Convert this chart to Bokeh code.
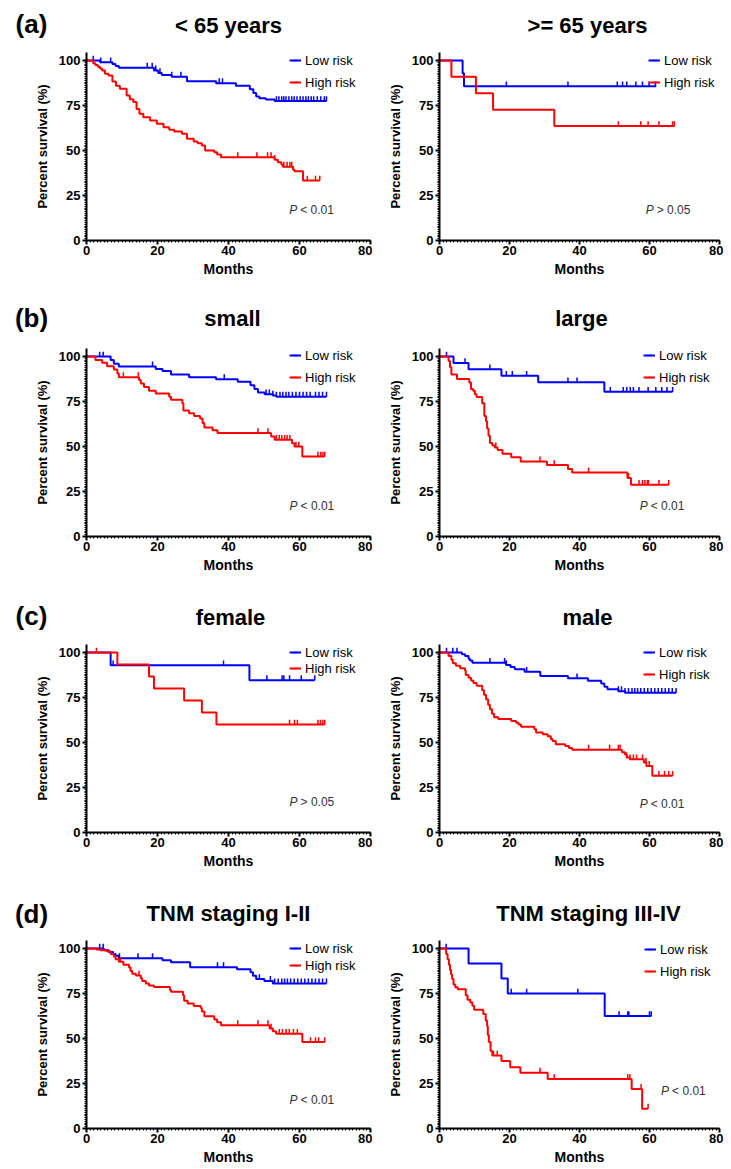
import math
from bokeh.plotting import figure
from bokeh.layouts import column, row
from bokeh.models import Label, Legend, LegendItem, Range1d, ColumnDataSource, FixedTicker
from bokeh.embed import file_html
from bokeh.resources import INLINE

# ---------------- data (months, percent survival) ----------------
X_TICKS = [0, 20, 40, 60, 80]
Y_TICKS = [0, 25, 50, 75, 100]

# (a) < 65 years
A1_LOW_T = [0, 3.8, 7.3, 8.2, 9.1, 19.0, 20.2, 21.2, 24.0, 28.3, 36.5, 42.1, 46.0, 47.0, 47.8, 48.7, 50.5, 53.0, 67.6]
A1_LOW_S = [100, 99, 98, 97, 96, 94.5, 93, 92, 91, 88.5, 87.4, 86, 84, 82, 80, 79, 78.3, 77.5, 77.5]
A1_LOW_C = [1.9, 4.0, 6.8, 17.1, 18.5, 19.5, 20.7, 24.0, 26.6, 37.4, 38.3, 53.5, 54.2, 55.0, 55.6, 56.2, 57.0,
            57.8, 58.5, 59.3, 60.2, 61.0, 61.8, 62.5, 63.3, 64.0, 65.0, 66.0, 67.0, 67.6]
A1_HIGH_T = [0, 1.9, 2.5, 3.2, 3.8, 4.4, 5.2, 6.2, 7.3, 8.3, 9.4, 11.3, 12.2, 13.2, 14.1, 14.9, 16.0, 17.9, 19.8,
             21.7, 23.3, 24.7, 26.9, 28.3, 30.2, 31.3, 32.5, 33.4, 36.0, 36.8, 37.9, 53.0, 53.9,
             54.9, 55.3, 58.2, 58.6, 61.0, 65.7]
A1_HIGH_S = [100, 98.5, 97.5, 96.5, 95.5, 94.5, 92.6, 91.7, 88.3, 86, 84.3, 80.5, 78.5, 76.9, 73.1, 70.4, 68.5,
             66.7, 64.8, 62.9, 61.5, 60.5, 59.3, 56.5, 55, 54, 52.8, 50, 49, 47.8, 46.3, 44.8, 43.5, 42.2, 41,
             39.3, 38.5, 33.3, 33.3]
A1_HIGH_C = [42.6, 48.0, 51.0, 52.0, 53.0, 55.6, 56.5, 57.3, 57.8, 62.2, 64.5, 65.7]

# (a) >= 65 years
A2_LOW_T = [0, 6.6, 7.0, 61.9]
A2_LOW_S = [100, 92.9, 85.7, 85.7]
A2_LOW_C = [19.1, 36.7, 50.8, 52.3, 53.5, 56.1, 58.0, 59.9, 61.7]
A2_HIGH_T = [0, 3.4, 10.4, 15.3, 32.8, 67.1]
A2_HIGH_S = [100, 90.9, 81.8, 72.7, 63.6, 63.6]
A2_HIGH_C = [51.1, 57.5, 59.6, 62.7, 66.6, 67.1]

# (b) small
B1_LOW_T = [0, 6.8, 7.7, 9.1, 19.5, 21.4, 23.8, 28.9, 36.5, 42.6, 46.2, 47.3, 48.3, 50.2, 52.5, 53.5, 67.6]
B1_LOW_S = [100, 98, 96, 94.5, 93, 92, 90, 88.5, 87.4, 85.9, 84, 82, 80, 79, 78.3, 77.7, 77.7]
B1_LOW_C = [3.7, 4.7, 18.6, 38.8, 50.6, 51.5, 52.5, 53.5, 54.5, 55.3, 56.2, 57.0, 58.0, 59.0, 60.0, 61.0, 62.0,
            63.0, 64.5, 65.5, 66.5, 67.6]
B1_HIGH_T = [0, 2.5, 4.4, 5.8, 7.7, 8.7, 9.1, 14.8, 15.3, 16.2, 17.6, 19.5, 23.3, 23.8, 27.0, 27.3, 28.9, 30.3,
             32.0, 32.7, 33.2, 35.5, 36.9, 52.0, 53.0, 57.9, 58.6, 60.8, 67.1]
B1_HIGH_S = [100, 98, 96.5, 94.6, 92.8, 90.5, 88.5, 87, 85, 83, 81, 79.5, 77.7, 76, 74, 70, 68.5, 67, 65.5, 63,
             60.5, 59, 57.5, 55.5, 53.7, 51.8, 50, 44.4, 44.4]
B1_HIGH_C = [10.4, 14.6, 48.3, 51.1, 53.5, 54.3, 55.0, 55.8, 56.5, 57.3, 59.0, 59.8, 65.2, 66.0, 66.6, 67.1]

# (b) large
B2_LOW_T = [0, 4.0, 8.3, 17.7, 28.2, 47.1, 66.6]
B2_LOW_S = [100, 96.4, 92.9, 89.3, 85.7, 80.4, 80.4]
B2_LOW_C = [2.0, 7.3, 14.4, 19.1, 20.8, 24.9, 36.7, 39.3, 48.8, 52.5, 53.5, 54.5, 55.4, 57.0, 59.6, 61.8, 63.5,
            65.0, 66.6]
B2_HIGH_T = [0, 2.6, 3.0, 3.4, 5.0, 8.5, 9.0, 9.6, 10.1, 10.6, 12.2, 12.8, 13.3, 13.6, 14.0, 14.4, 15.1, 15.8,
             16.6, 18.0, 20.5, 23.2, 30.7, 36.7, 37.9, 53.7, 54.7, 65.5]
B2_HIGH_S = [100, 97.5, 94, 90, 87.5, 85.5, 82, 81, 79, 77.5, 74, 67, 64, 60, 56, 52, 50.5, 49.5, 48, 46, 44,
             41.7, 39.7, 37.5, 35.6, 32.5, 28.7, 28.7]
B2_HIGH_C = [16.1, 28.7, 32.8, 42.6, 54.0, 57.0, 58.0, 58.7, 59.4, 59.7, 62.7, 65.5]

# (c) female
C1_LOW_T = [0, 6.8, 45.9, 64.3]
C1_LOW_S = [100, 92.9, 84.6, 84.6]
C1_LOW_C = [7.5, 38.6, 50.8, 55.1, 55.6, 57.2, 60.5, 64.3]
C1_HIGH_T = [0, 8.7, 17.6, 19.0, 27.5, 32.5, 36.6, 67.1]
C1_HIGH_S = [100, 93.3, 86.7, 80, 73.3, 66.7, 60, 60]
C1_HIGH_C = [2.8, 57.2, 58.6, 59.4, 65.2, 65.9, 66.6, 67.1]

# (c) male
C2_LOW_T = [0, 6.4, 7.3, 8.3, 8.7, 9.4, 19.0, 20.3, 21.5, 24.3, 28.8, 36.7, 42.4, 46.2, 47.1, 48.0, 51.1, 53.0, 67.6]
C2_LOW_S = [100, 99, 98, 96.5, 95.5, 94.3, 93, 92, 90.7, 89.3, 87, 85.7, 84.3, 82.8, 81, 79.6, 78.5, 77.6, 77.6]
C2_LOW_C = [2.0, 3.8, 5.0, 14.4, 18.6, 19.1, 24.9, 39.3, 51.1, 52.0, 53.0, 54.0, 55.0, 55.8, 56.6, 57.5, 58.5,
            59.5, 60.5, 61.5, 62.5, 63.5, 64.5, 65.5, 66.5, 67.6]
C2_HIGH_T = [0, 2.6, 3.4, 3.8, 4.7, 5.9, 7.3, 7.5, 8.3, 9.0, 9.7, 10.6, 12.2, 12.7, 13.3, 13.9, 14.4, 15.0, 15.6,
             16.8, 20.5, 21.9, 22.6, 23.3, 27.1, 27.6, 29.5, 30.9, 31.8, 32.3, 33.2, 35.9, 37.0, 37.9, 52.1, 53.0,
             53.5, 54.4, 58.4, 59.1, 60.8, 66.6]
C2_HIGH_S = [100, 98, 96, 94, 92.6, 91.3, 89.8, 87.5, 86, 84.5, 83, 81.5, 79, 76.5, 74, 71, 68.5, 66, 64, 63,
             62, 61, 60, 58.8, 57.4, 55.6, 54.6, 53.5, 52, 50.9, 49, 48, 47, 46, 44.6, 43.3, 41.7, 40.7, 38.9, 37,
             31.5, 31.5]
C2_HIGH_C = [42.6, 48.6, 51.1, 51.6, 53.5, 54.4, 55.4, 56.3, 58.0, 59.0, 59.9, 62.7, 64.3, 65.5, 66.6]

# (d) TNM staging I-II
D1_LOW_T = [0, 4.9, 6.3, 7.5, 8.2, 9.1, 21.4, 23.8, 29.2, 42.4, 46.2, 46.9, 47.8, 50.1, 52.5, 67.6]
D1_LOW_S = [100, 99, 98, 97, 96, 94.6, 93.5, 92.4, 89.6, 88.5, 86.8, 84.9, 83, 82, 80.6, 80.6]
D1_LOW_C = [3.7, 4.7, 9.3, 14.5, 18.6, 36.9, 38.6, 48.7, 51.8, 53.0, 54.0, 55.0, 55.8, 56.6, 57.5, 58.5, 59.5,
            60.5, 61.5, 62.5, 63.5, 64.5, 65.5, 66.5, 67.6]
D1_HIGH_T = [0, 2.8, 3.9, 5.7, 6.8, 7.7, 8.2, 9.1, 10.4, 12.0, 12.4, 12.9, 13.9, 15.3, 15.7, 16.7, 17.6, 19.0,
             23.5, 23.8, 27.2, 27.5, 28.5, 30.2, 32.2, 32.5, 33.2, 36.0, 36.8, 37.9, 51.6, 52.5, 53.4, 60.8, 67.1]
D1_HIGH_S = [100, 99.5, 99, 98.5, 97, 95.5, 94, 92.6, 91, 89.5, 87.5, 86, 85, 83.5, 82, 80.5, 79.5, 78.6, 77, 76,
             74, 71, 69.5, 68, 67, 65, 62.3, 60.5, 59, 57.4, 55.5, 54, 52.6, 48, 48]
D1_HIGH_C = [9.6, 14.8, 42.6, 48.3, 51.1, 52.0, 54.3, 55.2, 56.2, 57.1, 58.3, 59.4, 63.1, 64.5, 65.4, 67.1]

# (d) TNM staging III-IV
D2_LOW_T = [0, 8.3, 17.7, 19.5, 47.2, 60.5]
D2_LOW_S = [100, 91.7, 83.3, 75, 62.5, 62.5]
D2_LOW_C = [1.9, 20.5, 24.9, 39.5, 51.3, 53.8, 54.1, 60.0, 60.5]
D2_HIGH_T = [0, 1.9, 2.3, 2.7, 3.0, 3.3, 3.6, 4.0, 4.5, 5.2, 7.5, 8.0, 8.8, 9.4, 9.9, 12.5, 13.2, 13.6, 13.8,
             14.1, 14.6, 15.1, 17.7, 20.2, 23.1, 30.9, 54.9, 57.9, 59.6]
D2_HIGH_S = [100, 97, 94, 91, 88, 85.5, 83, 80, 78.5, 77.3, 74, 71.5, 70, 68.2, 66, 63.6, 60, 57, 52, 48, 43,
             40.5, 37.5, 34, 31, 27.5, 22, 11, 11]
D2_HIGH_C = [15.4, 16.5, 28.7, 32.8, 53.8, 54.4, 57.6, 59.6]

TITLES = ["< 65 years", ">= 65 years", "small", "large", "female", "male",
          "TNM staging I-II", "TNM staging III-IV"]
LETTERS = ["(a)", "(b)", "(c)", "(d)"]
P_TEXTS = ["< 0.01", "> 0.05", "< 0.01", "< 0.01", "> 0.05", "< 0.01", "< 0.01", "< 0.01"]
SERIES_NAMES = ["Low risk", "High risk"]

PANEL_DATA = [
    (A1_LOW_T, A1_LOW_S, A1_LOW_C, A1_HIGH_T, A1_HIGH_S, A1_HIGH_C),
    (A2_LOW_T, A2_LOW_S, A2_LOW_C, A2_HIGH_T, A2_HIGH_S, A2_HIGH_C),
    (B1_LOW_T, B1_LOW_S, B1_LOW_C, B1_HIGH_T, B1_HIGH_S, B1_HIGH_C),
    (B2_LOW_T, B2_LOW_S, B2_LOW_C, B2_HIGH_T, B2_HIGH_S, B2_HIGH_C),
    (C1_LOW_T, C1_LOW_S, C1_LOW_C, C1_HIGH_T, C1_HIGH_S, C1_HIGH_C),
    (C2_LOW_T, C2_LOW_S, C2_LOW_C, C2_HIGH_T, C2_HIGH_S, C2_HIGH_C),
    (D1_LOW_T, D1_LOW_S, D1_LOW_C, D1_HIGH_T, D1_HIGH_S, D1_HIGH_C),
    (D2_LOW_T, D2_LOW_S, D2_LOW_C, D2_HIGH_T, D2_HIGH_S, D2_HIGH_C),
]

# ---------------- styling ----------------
FONT = "Liberation Sans"
COLORS = ["#0000FF", "#FF0000"]
Y_END = 104.44
FRAME_H = 188
TOTAL_W = 723
LEFT_W, RIGHT_W = 372, 351
HEADER_H = [52, 44, 44, 44]
PLOT_H = [252, 252, 252, 227]
# title / letter vertical centre (px from header top) per row
TITLE_Y = [25, 14, 17, 17]
LETTER_Y = [23, 13, 15, 17]
LEFT_CENTER, RIGHT_CENTER = 228, 579
TITLE_DX = [0, 8, 4, 2, 2, 8, 0, 9]
P_POS = [(57.1, 16.7), (58.9, 16.7), (57.2, 17.2), (57.2, 16.7), (57.2, 16.7), (57.2, 16.1), (57.2, 16.1), (63.3, 20.9)]
# legend: glyph x px from frame left, first entry centre px from frame top, entry pitch px
LEG_POS = [(203, 8, 22), (209, 8, 22), (203, 7, 22), (204, 7, 22),
           (203, 8, 16), (204, 8, 22), (203, 8, 17), (205, 9, 22)]


def surv_at(ts, ss, c):
    v = ss[0]
    for t, s in zip(ts, ss):
        if t <= c:
            v = s
        else:
            break
    return v


def make_header(r):
    h = HEADER_H[r]
    p = figure(width=TOTAL_W, height=h, output_backend="svg", toolbar_location=None,
               x_range=Range1d(0, TOTAL_W), y_range=Range1d(0, h),
               x_axis_type=None, y_axis_type=None,
               min_border_left=0, min_border_right=0, min_border_top=0, min_border_bottom=0)
    p.outline_line_color = None
    p.xgrid.visible = False
    p.ygrid.visible = False
    p.add_layout(Label(x=31, y=h - LETTER_Y[r], text=LETTERS[r], text_font=FONT, text_font_style="bold",
                       text_font_size="26px", text_align="center", text_baseline="middle", text_color="black"))
    for j, cx in ((2 * r, LEFT_CENTER), (2 * r + 1, RIGHT_CENTER)):
        p.add_layout(Label(x=cx + TITLE_DX[j], y=h - TITLE_Y[r], text=TITLES[j], text_font=FONT,
                           text_font_style="bold", text_font_size="22px", text_align="center",
                           text_baseline="middle", text_color="black"))
    return p


def make_panel(i):
    left = (i % 2 == 0)
    r = i // 2
    width = LEFT_W if left else RIGHT_W
    mbl = 86 if left else 67
    mbr = 2 if left else 4
    height = PLOT_H[r]
    mbb = height - FRAME_H

    p = figure(width=width, height=height, output_backend="svg", toolbar_location=None,
               x_range=Range1d(0, 80), y_range=Range1d(0, Y_END),
               min_border_left=mbl, min_border_right=mbr, min_border_top=0, min_border_bottom=mbb,
               background_fill_color="white", border_fill_color="white")
    p.outline_line_color = None
    p.xgrid.visible = False
    p.ygrid.visible = False

    p.xaxis.ticker = FixedTicker(ticks=X_TICKS, minor_ticks=list(range(0, 81)))
    p.yaxis.ticker = FixedTicker(ticks=Y_TICKS, minor_ticks=list(range(0, 101)))
    for ax in (p.xaxis, p.yaxis):
        ax.axis_line_width = 2
        ax.axis_line_color = "black"
        ax.major_tick_line_width = 2
        ax.major_tick_out = 4
        ax.major_tick_in = 0
        ax.minor_tick_line_width = 1
        ax.minor_tick_out = 2
        ax.minor_tick_in = 0
        ax.major_label_text_font = FONT
        ax.major_label_text_font_style = "bold"
        ax.major_label_text_font_size = "13px"
        ax.major_label_text_color = "black"
        ax.axis_label_text_font = FONT
        ax.axis_label_text_font_style = "bold"
        ax.axis_label_text_color = "black"
    p.xaxis.axis_label = "Months"
    p.xaxis.axis_label_text_font_size = "14px"
    p.xaxis.major_label_standoff = 1
    p.xaxis.axis_label_standoff = 3
    p.yaxis.axis_label = "Percent survival (%)"
    p.yaxis.axis_label_text_font_size = "13px"
    p.yaxis.major_label_standoff = 2
    p.yaxis.axis_label_standoff = 6

    data = PANEL_DATA[i]
    items = []
    for k in range(2):
        ts, ss, cs = data[3 * k], data[3 * k + 1], data[3 * k + 2]
        col = COLORS[k]
        src = ColumnDataSource(dict(t=ts, s=ss))
        ln = p.step(x="t", y="s", source=src, mode="after", line_color=col, line_width=2)
        cy = [surv_at(ts, ss, c) + 1.3 for c in cs]
        csrc = ColumnDataSource(dict(t=cs, s=cy))
        sc = p.scatter(x="t", y="s", source=csrc, marker="dash", angle=math.pi / 2, size=5,
                       line_color=col, line_width=1.5)
        items.append(LegendItem(label=SERIES_NAMES[k], renderers=[ln, sc]))

    gx, c1, sp = LEG_POS[i]
    eh = 16
    gap = int(max(sp - eh, 0))
    leg_h = 2 * eh + gap
    top = c1 - eh // 2
    legend = Legend(items=items, location=(int(gx), int(FRAME_H - top - leg_h)), orientation="vertical",
                    glyph_width=12, glyph_height=eh, label_height=eh, label_standoff=4, spacing=gap,
                    padding=0, margin=0, border_line_alpha=0, background_fill_alpha=0,
                    label_text_font=FONT, label_text_font_size="13px", label_text_color="black")
    p.add_layout(legend, "center")

    px_, py_ = P_POS[i]
    p.add_layout(Label(x=px_, y=py_, text="P", text_font=FONT, text_font_style="italic",
                       text_font_size="12px", text_align="left", text_baseline="middle",
                       text_color="#333333"))
    p.add_layout(Label(x=px_, y=py_, x_offset=11, text=P_TEXTS[i], text_font=FONT,
                       text_font_size="12px", text_align="left", text_baseline="middle",
                       text_color="#333333"))
    return p


children = []
for r in range(4):
    children.append(make_header(r))
    children.append(row(make_panel(2 * r), make_panel(2 * r + 1)))
layout = column(*children)

open("out.html", "w").write(file_html(layout, INLINE))
